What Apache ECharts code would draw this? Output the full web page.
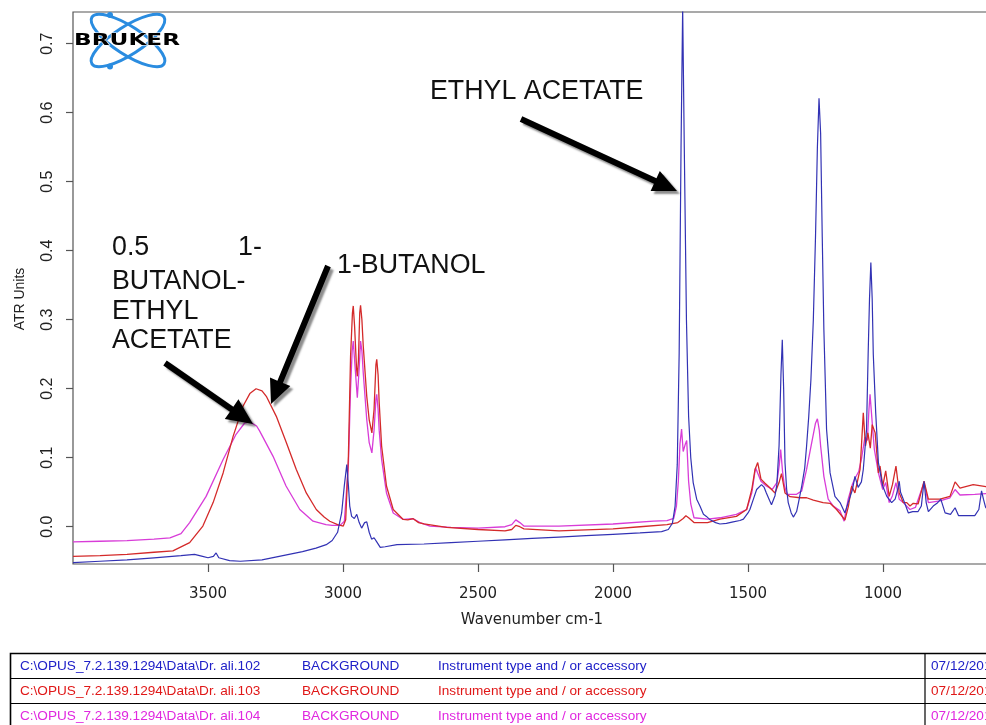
<!DOCTYPE html>
<html><head><meta charset="utf-8">
<script src="https://cdn.jsdelivr.net/npm/echarts@6/dist/echarts.min.js"></script>
<style>html,body{margin:0;padding:0;background:#fff;overflow:hidden}#chart{width:986px;height:725px}</style>
</head><body><div id="chart"></div>
<script>
// ---- axis ticks ----
const wavenumberTicks = [3500, 3000, 2500, 2000, 1500, 1000];
const atrTicks = [0, 0.1, 0.2, 0.3, 0.4, 0.5, 0.6, 0.7];

// ---- spectra: [wavenumber cm-1, ATR units] ----
// Dr. ali.102  (blue, ethyl acetate)
const ethylAcetate = [
[4000,-0.052],[3900,-0.050],[3800,-0.048],[3700,-0.045],[3600,-0.042],[3550,-0.040],[3520,-0.043],[3500,-0.045],
[3480,-0.043],[3470,-0.038],[3460,-0.045],[3420,-0.049],[3380,-0.050],[3300,-0.048],[3250,-0.044],[3200,-0.040],
[3150,-0.036],[3100,-0.031],[3062,-0.026],[3040,-0.020],[3020,-0.008],[3005,0.020],[2995,0.060],[2986,0.090],
[2980,0.060],[2975,0.030],[2968,0.015],[2958,0.012],[2949,0.018],[2940,0.006],[2931,-0.002],[2920,0.006],
[2912,0.007],[2903,-0.008],[2894,-0.018],[2885,-0.016],[2875,-0.022],[2862,-0.030],[2844,-0.029],[2800,-0.026],
[2700,-0.025],[2600,-0.023],[2500,-0.021],[2400,-0.019],[2300,-0.017],[2200,-0.015],[2100,-0.013],[2000,-0.011],
[1900,-0.009],[1820,-0.007],[1795,-0.004],[1780,0.005],[1770,0.030],[1762,0.090],[1755,0.250],[1748,0.550],
[1742,0.752],[1736,0.550],[1728,0.300],[1720,0.160],[1712,0.100],[1703,0.064],[1690,0.040],[1678,0.030],
[1665,0.018],[1654,0.015],[1640,0.010],[1620,0.006],[1604,0.004],[1580,0.005],[1555,0.007],[1530,0.009],
[1517,0.011],[1500,0.020],[1493,0.025],[1480,0.040],[1468,0.054],[1450,0.061],[1440,0.057],[1432,0.049],
[1420,0.038],[1413,0.032],[1400,0.045],[1393,0.061],[1385,0.117],[1378,0.220],[1373,0.271],[1368,0.200],
[1363,0.093],[1357,0.055],[1351,0.035],[1340,0.020],[1332,0.014],[1320,0.022],[1313,0.035],[1301,0.059],
[1290,0.085],[1283,0.117],[1275,0.160],[1267,0.213],[1258,0.300],[1250,0.420],[1243,0.550],[1237,0.621],
[1231,0.570],[1225,0.420],[1219,0.286],[1209,0.141],[1196,0.078],[1178,0.044],[1159,0.035],[1141,0.020],
[1129,0.035],[1113,0.054],[1104,0.073],[1092,0.057],[1080,0.065],[1073,0.083],[1061,0.141],[1055,0.250],
[1050,0.330],[1045,0.383],[1040,0.330],[1036,0.250],[1027,0.165],[1017,0.093],[1001,0.059],[986,0.044],
[968,0.035],[955,0.040],[945,0.055],[940,0.066],[935,0.050],[925,0.040],[906,0.020],[890,0.022],
[870,0.022],[858,0.030],[848,0.066],[840,0.035],[832,0.022],[814,0.030],[800,0.034],[786,0.040],
[770,0.020],[750,0.018],[733,0.0275],[720,0.016],[700,0.016],[660,0.016],[645,0.025],[635,0.052],
[628,0.040],[620,0.028],[600,0.022]
];
// Dr. ali.103  (red, 1-butanol)
const butanol = [
[4000,-0.043],[3900,-0.042],[3800,-0.040],[3700,-0.037],[3630,-0.035],[3568,-0.023],[3519,0.001],[3481,0.035],
[3444,0.078],[3407,0.131],[3370,0.175],[3345,0.193],[3322,0.200],[3300,0.197],[3284,0.189],[3247,0.160],
[3210,0.122],[3173,0.083],[3136,0.049],[3099,0.025],[3070,0.014],[3049,0.008],[3020,0.003],[2999,0.001],
[2990,0.010],[2980,0.102],[2972,0.247],[2965,0.310],[2962,0.320],[2957,0.290],[2950,0.230],[2947,0.218],
[2943,0.240],[2938,0.310],[2935,0.321],[2930,0.300],[2925,0.262],[2912,0.189],[2903,0.155],[2893,0.136],
[2885,0.170],[2878,0.235],[2875,0.2425],[2870,0.220],[2866,0.180],[2857,0.117],[2839,0.059],[2814,0.025],
[2777,0.0106],[2760,0.010],[2740,0.0116],[2720,0.006],[2700,0.004],[2616,-0.001],[2500,-0.004],[2400,-0.006],
[2375,-0.004],[2360,0.002],[2345,0.000],[2330,-0.003],[2200,-0.006],[2000,-0.003],[1900,0.000],[1800,0.003],
[1760,0.006],[1740,0.012],[1730,0.016],[1720,0.013],[1700,0.006],[1650,0.006],[1604,0.011],[1543,0.015],
[1505,0.025],[1486,0.054],[1474,0.083],[1464,0.093],[1452,0.069],[1437,0.063],[1419,0.0565],[1400,0.049],
[1385,0.064],[1376,0.077],[1363,0.049],[1344,0.0435],[1307,0.042],[1283,0.042],[1258,0.0386],[1222,0.035],
[1196,0.034],[1172,0.025],[1147,0.013],[1141,0.0096],[1128,0.030],[1116,0.059],[1104,0.049],[1085,0.083],
[1078,0.130],[1073,0.165],[1065,0.117],[1056,0.136],[1047,0.114],[1040,0.148],[1029,0.136],[1017,0.078],
[1011,0.088],[1001,0.059],[990,0.081],[977,0.044],[965,0.061],[952,0.088],[940,0.049],[925,0.035],
[912,0.035],[900,0.030],[888,0.034],[870,0.033],[848,0.066],[832,0.040],[789,0.040],[752,0.044],
[733,0.065],[715,0.056],[666,0.061],[619,0.058],[600,0.056]
];
// Dr. ali.104  (magenta, 0.5 1-butanol - ethyl acetate)
const mixture = [
[4000,-0.022],[3900,-0.021],[3800,-0.020],[3700,-0.018],[3641,-0.016],[3600,-0.010],[3568,0.006],[3507,0.044],
[3444,0.0975],[3396,0.134],[3365,0.150],[3345,0.152],[3320,0.146],[3309,0.139],[3259,0.102],[3211,0.059],
[3160,0.025],[3111,0.008],[3063,0.003],[3040,0.002],[3011,0.002],[2995,0.008],[2980,0.090],[2972,0.200],
[2966,0.255],[2962,0.269],[2955,0.230],[2947,0.187],[2940,0.230],[2935,0.269],[2930,0.255],[2925,0.223],
[2912,0.155],[2903,0.122],[2893,0.107],[2885,0.140],[2878,0.185],[2875,0.192],[2870,0.170],[2866,0.140],
[2857,0.0975],[2839,0.049],[2814,0.020],[2777,0.0106],[2740,0.0116],[2715,0.006],[2678,0.001],[2600,-0.001],
[2500,-0.002],[2400,0.000],[2375,0.003],[2360,0.010],[2345,0.006],[2330,0.001],[2200,0.001],[2000,0.004],
[1850,0.008],[1800,0.009],[1775,0.012],[1765,0.030],[1758,0.066],[1752,0.120],[1746,0.1416],[1740,0.109],
[1732,0.120],[1727,0.125],[1720,0.066],[1712,0.033],[1700,0.013],[1650,0.011],[1604,0.013],[1543,0.018],
[1505,0.025],[1486,0.049],[1472,0.0855],[1466,0.088],[1452,0.066],[1432,0.059],[1410,0.054],[1393,0.064],
[1384,0.090],[1379,0.112],[1372,0.080],[1365,0.059],[1355,0.047],[1320,0.047],[1301,0.052],[1283,0.083],
[1264,0.122],[1250,0.150],[1243,0.1565],[1236,0.140],[1231,0.117],[1219,0.073],[1203,0.040],[1184,0.030],
[1159,0.023],[1144,0.008],[1129,0.040],[1113,0.062],[1104,0.070],[1090,0.080],[1079,0.100],[1067,0.130],
[1058,0.125],[1052,0.170],[1048,0.192],[1041,0.156],[1032,0.112],[1017,0.078],[1001,0.054],[990,0.064],
[977,0.035],[965,0.045],[952,0.064],[940,0.040],[925,0.035],[900,0.025],[880,0.028],[848,0.064],
[832,0.035],[789,0.0375],[752,0.042],[733,0.054],[715,0.046],[660,0.047],[619,0.048],[600,0.048]
];

// ---- data-table rows under the plot ----
const fileNames = ['C:\\OPUS_7.2.139.1294\\Data\\Dr. ali.102', 'C:\\OPUS_7.2.139.1294\\Data\\Dr. ali.103', 'C:\\OPUS_7.2.139.1294\\Data\\Dr. ali.104'];
const rowBackground = ['BACKGROUND', 'BACKGROUND', 'BACKGROUND'];
const rowInstrument = ['Instrument type and / or accessory', 'Instrument type and / or accessory', 'Instrument type and / or accessory'];
const rowDates = ['07/12/2010', '07/12/2010', '07/12/2010'];
const seriesColors = ['#3232b4', '#d42a2a', '#d83cd8'];
const tableColors = ['#2020c8', '#e01818', '#e028e0'];

const chart = echarts.init(document.getElementById('chart'), null, {renderer: 'canvas'});

const shadow = {shadowBlur: 2, shadowColor: 'rgba(0,0,0,0.45)', shadowOffsetX: 3, shadowOffsetY: 3};
function arrow(tail, tip, hl, hw) {
  const dx = tip[0] - tail[0], dy = tip[1] - tail[1], L = Math.hypot(dx, dy);
  const ux = dx / L, uy = dy / L, nx = -uy, ny = ux, sw = 3;
  const bx = tip[0] - ux * hl, by = tip[1] - uy * hl;
  return {
    type: 'polygon', z: 100,
    shape: {points: [
      [tail[0] + nx * sw, tail[1] + ny * sw], [bx + nx * sw, by + ny * sw], [bx + nx * hw, by + ny * hw], tip,
      [bx - nx * hw, by - ny * hw], [bx - nx * sw, by - ny * sw], [tail[0] - nx * sw, tail[1] - ny * sw]
    ]},
    style: Object.assign({fill: '#000'}, shadow)
  };
}
function label(text, x, y) {
  return {type: 'text', x: x, y: y, z: 100,
    style: {text: text, font: '26.8px "Liberation Sans", Arial, sans-serif', fill: '#111', verticalAlign: 'middle', align: 'left'}};
}

const graphics = [
  // Bruker logo
  {type: 'ellipse', x: 128, y: 40.5, rotation: 33 * Math.PI / 180, shape: {cx: 0, cy: 0, rx: 43, ry: 14},
   style: {fill: 'none', stroke: '#2a8ce0', lineWidth: 3}, z: 50},
  {type: 'ellipse', x: 128, y: 40.5, rotation: -33 * Math.PI / 180, shape: {cx: 0, cy: 0, rx: 43, ry: 14},
   style: {fill: 'none', stroke: '#2a8ce0', lineWidth: 3}, z: 50},
  {type: 'circle', shape: {cx: 110, cy: 15, r: 3}, style: {fill: '#2a8ce0'}, z: 50},
  {type: 'circle', shape: {cx: 110, cy: 66.5, r: 3}, style: {fill: '#2a8ce0'}, z: 50},
  {type: 'text', x: 74, y: 41, scaleX: 1.45, z: 51,
   style: {text: 'BRUKER', font: 'bold 16px "DejaVu Sans", sans-serif', fill: '#000', verticalAlign: 'middle', align: 'left',
           stroke: '#fff', lineWidth: 1}},
  // annotations
  label('ETHYL ACETATE', 430, 92),
  label('1-BUTANOL', 337, 266),
  label('0.5', 112, 248),
  label('1-', 238, 248),
  label('BUTANOL-', 112, 282),
  label('ETHYL', 112, 312),
  label('ACETATE', 112, 341),
  arrow([521, 119], [677, 191], 24, 11),
  arrow([328, 266], [271, 404], 24, 11),
  arrow([165, 363], [253, 424], 26, 12),
  // table frame
  {type: 'rect', shape: {x: 10.5, y: 653.5, width: 1000, height: 75}, style: {fill: 'none', stroke: '#000', lineWidth: 1.6}},
  {type: 'line', shape: {x1: 10, y1: 678.5, x2: 986, y2: 678.5}, style: {stroke: '#000', lineWidth: 1.2}},
  {type: 'line', shape: {x1: 10, y1: 703.5, x2: 986, y2: 703.5}, style: {stroke: '#000', lineWidth: 1.2}},
  {type: 'line', shape: {x1: 925, y1: 653, x2: 925, y2: 725}, style: {stroke: '#000', lineWidth: 1.2}}
];
const colX = [20, 302, 438, 931];
for (let i = 0; i < 3; i++) {
  const y = 666.5 + i * 25;
  const cells = [fileNames[i], rowBackground[i], rowInstrument[i], rowDates[i]];
  cells.forEach((t, j) => graphics.push({type: 'text', x: colX[j], y: y,
    style: {text: t, font: '13.6px "Liberation Sans", Arial, sans-serif', fill: tableColors[i], verticalAlign: 'middle', align: 'left'}}));
}

const axisColor = '#555';
chart.setOption({
  animation: false,
  backgroundColor: '#fff',
  grid: {left: 73, top: 12, width: 918, height: 552, show: true, borderColor: axisColor, borderWidth: 1.2,
         backgroundColor: 'transparent', containLabel: false, outerBoundsMode: 'none'},
  xAxis: {
    type: 'value', inverse: true, min: 600, max: 4000, position: 'bottom',
    name: 'Wavenumber cm-1', nameLocation: 'middle', nameGap: 49,
    nameTextStyle: {fontFamily: 'DejaVu Sans', fontSize: 15, color: '#222'},
    axisLine: {show: false, onZero: false},
    splitLine: {show: false},
    axisTick: {show: true, inside: false, length: 8, lineStyle: {color: axisColor, width: 1.2}, customValues: wavenumberTicks},
    axisLabel: {show: true, margin: 23, fontFamily: 'DejaVu Sans', fontSize: 15, color: '#222', customValues: wavenumberTicks,
                formatter: v => String(v)}
  },
  yAxis: {
    type: 'value', min: -0.054, max: 0.746, position: 'left',
    name: 'ATR Units', nameLocation: 'middle', nameGap: 46, nameRotate: 90,
    nameTextStyle: {fontFamily: 'Liberation Sans', fontSize: 14, color: '#222', padding: [0, 22, 0, 0]},
    axisLine: {show: false, onZero: false},
    splitLine: {show: false},
    axisTick: {show: true, inside: false, length: 7, lineStyle: {color: axisColor, width: 1.2}, customValues: atrTicks},
    axisLabel: {show: true, rotate: 90, margin: 17, fontFamily: 'Liberation Sans', fontSize: 16, color: '#222',
                customValues: atrTicks, formatter: v => v.toFixed(1)}
  },
  series: [
    {name: 'Dr. ali.104', type: 'line', data: mixture, symbol: 'none', lineStyle: {color: seriesColors[2], width: 1.3}, clip: true, z: 2},
    {name: 'Dr. ali.103', type: 'line', data: butanol, symbol: 'none', lineStyle: {color: seriesColors[1], width: 1.3}, clip: true, z: 3},
    {name: 'Dr. ali.102', type: 'line', data: ethylAcetate, symbol: 'none', lineStyle: {color: seriesColors[0], width: 1.2}, clip: true, z: 4}
  ],
  graphic: {elements: graphics}
});
</script></body></html>
